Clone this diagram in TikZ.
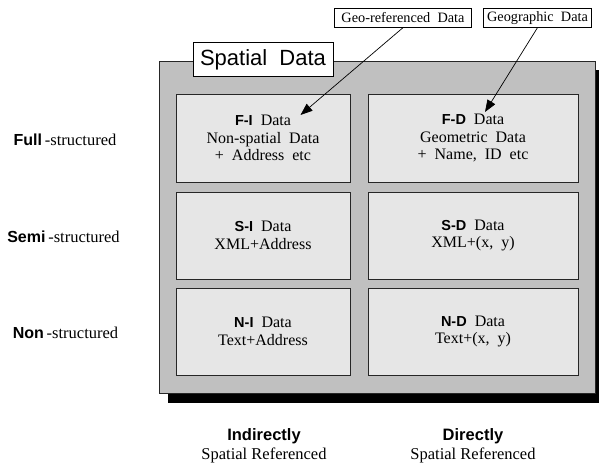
\documentclass[tikz,border=0pt]{standalone}
\usepackage{fontspec}
\setmainfont{Liberation Serif}
\setsansfont{Liberation Sans}
\usetikzlibrary{arrows.meta}

\definecolor{framegray}{HTML}{C0C0C0}
\definecolor{cellgray}{HTML}{E6E6E6}
\definecolor{edgegray}{HTML}{262626}

\newcommand{\kind}[2][14.5]{{\sffamily\bfseries\fontsize{#1}{17}\selectfont #2}}

\begin{document}
\begin{tikzpicture}[x=1pt,y=-1pt,
  cell/.style={draw=edgegray, line width=0.8pt, fill=cellgray,
    align=center, inner sep=0pt, font=\fontsize{16}{17.5}\selectfont},
  tag/.style={draw=black, line width=0.7pt, fill=white, inner sep=0pt,
    font=\fontsize{14.3}{15}\selectfont},
  rowlabel/.style={font=\fontsize{16.5}{17}\selectfont, inner sep=0pt},
  collabel/.style={align=center, inner sep=0pt, font=\fontsize{16.5}{19}\selectfont},
  pointer/.style={line width=0.7pt, -{Triangle[length=12pt,width=9pt]}}]

\useasboundingbox (0,0) rectangle (599,466);

% drop shadow and the grey frame
\fill[black] (167.5,70) rectangle (604,403.3);
\filldraw[fill=framegray, draw=edgegray, line width=0.8pt] (159.5,61) rectangle (595.5,393.3);

% title tab
\node[draw=black, line width=0.8pt, fill=white, inner sep=0pt,
  minimum width=140pt, minimum height=34pt,
  font=\sffamily\fontsize{22}{24}\selectfont] (title) at (263,59.7) {Spatial\ \ Data};

% the six data cells
\node[cell, minimum width=174pt, minimum height=88pt] (fi) at (263,138)
  {\kind{F-I}\ \ Data\\Non-spatial\ \ Data\\+\ \ Address\ \ etc};
\node[cell, minimum width=210pt, minimum height=88pt] (fd) at (473,138)
  {\kind{F-D}\ \ Data\\Geometric\ \ Data\\+\ \ Name,\ \ ID\ \ etc};
\node[cell, minimum width=174pt, minimum height=87pt] (si) at (263,235.5)
  {\kind{S-I}\ \ Data\\XML+Address};
\node[cell, minimum width=210pt, minimum height=87pt] (sd) at (473,235.5)
  {\kind{S-D}\ \ Data\\XML+(x,\ \ y)};
\node[cell, minimum width=174pt, minimum height=87pt] (ni) at (263,331.5)
  {\kind{N-I}\ \ Data\\Text+Address};
\node[cell, minimum width=210pt, minimum height=87pt] (nd) at (473,331.5)
  {\kind{N-D}\ \ Data\\Text+(x,\ \ y)};

% row labels
\node[rowlabel] (full) at (65,140) {\kind[16]{Full}\,-structured};
\node[rowlabel] (semi) at (63.5,237) {\kind[16]{Semi}\,-structured};
\node[rowlabel] (non) at (65.5,332.5) {\kind[16]{Non}\,-structured};

% column labels
\node[collabel] (indirect) at (264,446) {\kind[16.5]{Indirectly}\\Spatial Referenced};
\node[collabel] (direct) at (473,446) {\kind[16.5]{Directly}\\Spatial Referenced};

% callout tags with their pointers
\node[tag, minimum width=137pt, minimum height=19pt] (georef) at (403,17.8) {Geo-referenced\ \ Data};
\node[tag, minimum width=108pt, minimum height=19pt] (geogr) at (537.5,17.8) {Geographic\ \ Data};
\coordinate (fitip) at (300.5,115);
\coordinate (fdtip) at (485,112);
\draw[pointer] (georef.south) -- (fitip);
\draw[pointer] (geogr.south) -- (fdtip);

\end{tikzpicture}
\end{document}
